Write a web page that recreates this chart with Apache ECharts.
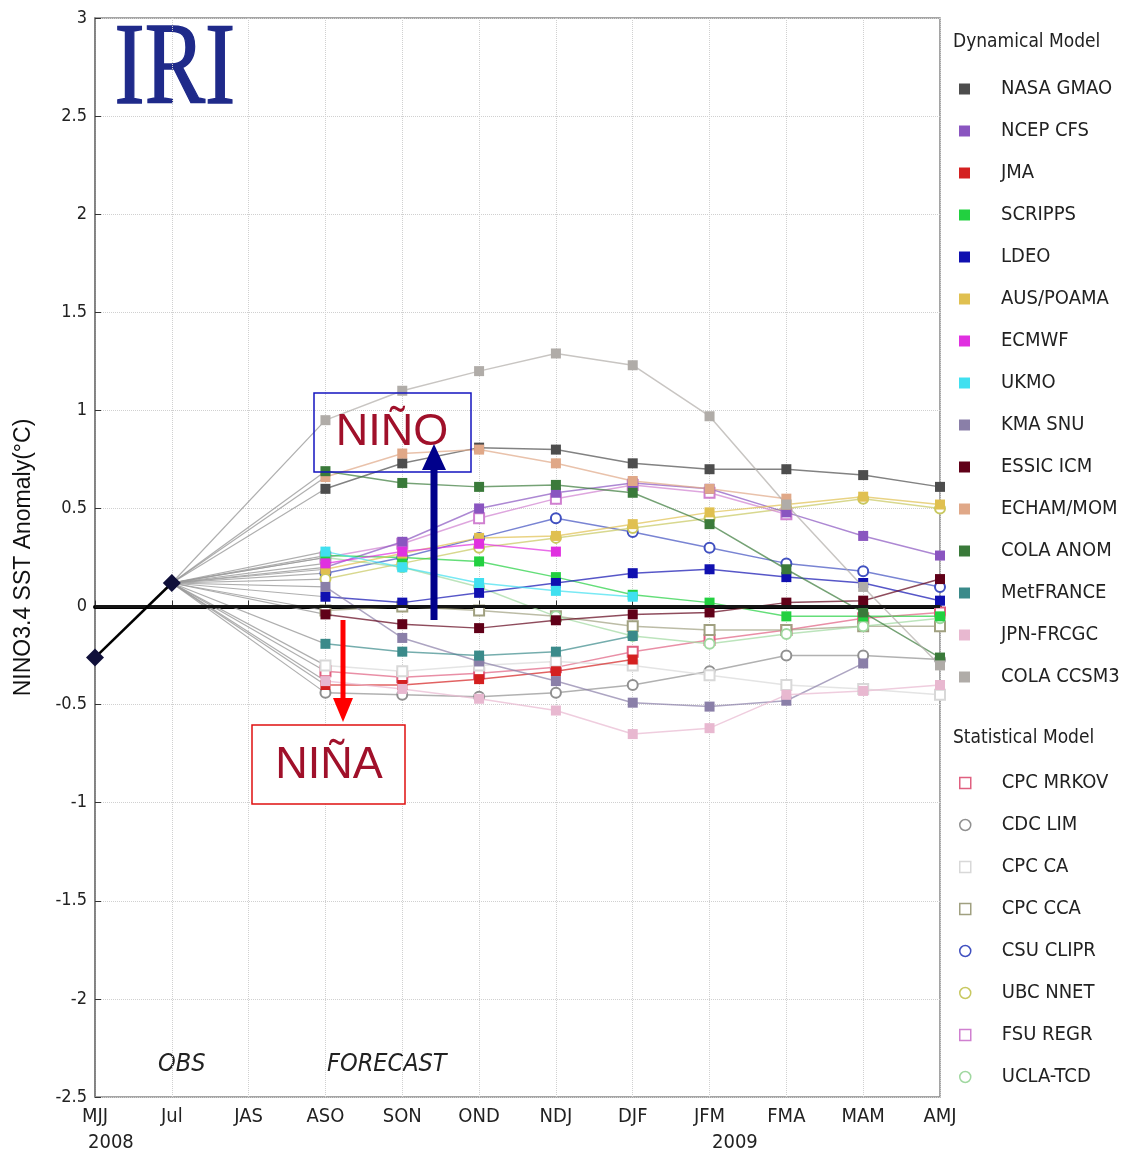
<!DOCTYPE html>
<html>
<head>
<meta charset="utf-8">
<script src="https://cdn.jsdelivr.net/npm/echarts@6/dist/echarts.min.js"></script>
<style>
  html, body { margin: 0; padding: 0; background: #fff; }
  #chart { width: 1146px; height: 1157px; }
</style>
</head>
<body>
<div id="chart"></div>
<script>
// seasons on the x axis (JJA is written "Jul" in the original)
var seasons = ['MJJ', 'Jul', 'JAS', 'ASO', 'SON', 'OND', 'NDJ', 'DJF', 'JFM', 'FMA', 'MAM', 'AMJ'];
var yTicks = [-2.5, -2, -1.5, -1, -0.5, 0, 0.5, 1, 1.5, 2, 2.5, 3];

// observed anomalies (MJJ, JJA)
var observed = [-0.26, 0.12];

// forecasts ASO .. AMJ
var NASA_GMAO  = [0.60, 0.73, 0.81, 0.80, 0.73, 0.70, 0.70, 0.67, 0.61];
var NCEP_CFS   = [0.20, 0.33, 0.50, 0.58, 0.63, 0.60, 0.48, 0.36, 0.26];
var JMA        = [-0.40, -0.40, -0.37, -0.33, -0.27, null, null, null, null];
var SCRIPPS    = [0.26, 0.25, 0.23, 0.15, 0.06, 0.02, -0.05, -0.05, -0.05];
var LDEO       = [0.05, 0.02, 0.07, 0.12, 0.17, 0.19, 0.15, 0.12, 0.03];
var AUS_POAMA  = [0.19, 0.27, 0.35, 0.36, 0.42, 0.48, 0.52, 0.56, 0.52];
var ECMWF      = [0.22, 0.28, 0.32, 0.28, null, null, null, null, null];
var UKMO       = [0.28, 0.20, 0.12, 0.08, 0.05, null, null, null, null];
var KMA_SNU    = [0.10, -0.16, -0.28, -0.38, -0.49, -0.51, -0.48, -0.29, null];
var ESSIC_ICM  = [-0.04, -0.09, -0.11, -0.07, -0.04, -0.03, 0.02, 0.03, 0.14];
var ECHAM_MOM  = [0.66, 0.78, 0.80, 0.73, 0.64, 0.60, 0.55, null, null];
var COLA_ANOM  = [0.69, 0.63, 0.61, 0.62, 0.58, 0.42, 0.19, -0.03, -0.26];
var METFRANCE  = [-0.19, -0.23, -0.25, -0.23, -0.15, null, null, null, null];
var JPN_FRCGC  = [-0.38, -0.42, -0.47, -0.53, -0.65, -0.62, -0.45, -0.43, -0.40];
var COLA_CCSM3 = [0.95, 1.10, 1.20, 1.29, 1.23, 0.97, 0.52, 0.10, -0.30];

var CPC_MRKOV  = [-0.33, -0.36, -0.34, -0.31, -0.23, -0.17, -0.12, -0.06, -0.03];
var CDC_LIM    = [-0.44, -0.45, -0.46, -0.44, -0.40, -0.33, -0.25, -0.25, -0.27];
var CPC_CA     = [-0.30, -0.33, -0.30, -0.28, -0.30, -0.35, -0.40, -0.42, -0.45];
var CPC_CCA    = [-0.02, 0.00, -0.02, -0.05, -0.10, -0.12, -0.12, -0.10, -0.10];
var CSU_CLIPR  = [0.17, 0.25, 0.35, 0.45, 0.38, 0.30, 0.22, 0.18, 0.10];
var UBC_NNET   = [0.14, 0.22, 0.30, 0.35, 0.40, 0.45, 0.50, 0.55, 0.50];
var FSU_REGR   = [0.25, 0.32, 0.45, 0.55, 0.62, 0.58, 0.47, null, null];
var UCLA_TCD   = [0.25, 0.20, 0.10, -0.05, -0.15, -0.19, -0.14, -0.10, -0.06];

var dynNames  = ['NASA GMAO', 'NCEP CFS', 'JMA', 'SCRIPPS', 'LDEO', 'AUS/POAMA', 'ECMWF', 'UKMO',
                 'KMA SNU', 'ESSIC ICM', 'ECHAM/MOM', 'COLA ANOM', 'MetFRANCE', 'JPN-FRCGC', 'COLA CCSM3'];
var dynValues = [NASA_GMAO, NCEP_CFS, JMA, SCRIPPS, LDEO, AUS_POAMA, ECMWF, UKMO,
                 KMA_SNU, ESSIC_ICM, ECHAM_MOM, COLA_ANOM, METFRANCE, JPN_FRCGC, COLA_CCSM3];
var dynColors = ['#4d4d4d', '#8a55c0', '#d42020', '#22d040', '#1010b0', '#e0c050', '#e030e0', '#40e0f0',
                 '#8a7fa8', '#600018', '#e0a888', '#3a7a3a', '#3a8a8a', '#e8b8d0', '#b0aca8'];

var statNames  = ['CPC MRKOV', 'CDC LIM', 'CPC CA', 'CPC CCA', 'CSU CLIPR', 'UBC NNET', 'FSU REGR', 'UCLA-TCD'];
var statValues = [CPC_MRKOV, CDC_LIM, CPC_CA, CPC_CCA, CSU_CLIPR, UBC_NNET, FSU_REGR, UCLA_TCD];
var statColors = ['#e06080', '#909090', '#d8d8d8', '#a0a080', '#4050c0', '#c8c860', '#d080d0', '#a0d8a0'];
var statSymbols = ['emptyRect', 'emptyCircle', 'emptyRect', 'emptyRect', 'emptyCircle', 'emptyCircle', 'emptyRect', 'emptyCircle'];

var narrow = '"Liberation Sans Narrow", "DejaVu Sans Condensed", "Liberation Sans", sans-serif';

var series = [];
function forecastData(vals) {
  return [null, null, null].concat(vals);
}
function spokeData(vals) {
  return [null, observed[1], null, vals[0]];
}
// thin gray lines from the last observation to each model's first season
dynValues.concat(statValues).forEach(function (vals) {
  series.push({
    type: 'line', data: spokeData(vals), connectNulls: true, silent: true,
    symbol: 'none', lineStyle: { color: '#9a9a9a', width: 1.2, opacity: 0.8 }, z: 1
  });
});
dynNames.forEach(function (n, i) {
  series.push({
    name: n, type: 'line', data: forecastData(dynValues[i]),
    symbol: 'rect', symbolSize: 10, color: dynColors[i],
    lineStyle: { width: 1.5, opacity: 0.7 }, z: 3
  });
});
statNames.forEach(function (n, i) {
  series.push({
    name: n, type: 'line', data: forecastData(statValues[i]),
    symbol: statSymbols[i], symbolSize: 10, color: statColors[i],
    itemStyle: { borderWidth: 1.5 },
    lineStyle: { width: 1.5, opacity: 0.7 }, z: 2
  });
});
series.push({
  name: 'OBS', type: 'line', data: observed,
  symbol: 'diamond', symbolSize: 18, color: '#10103a',
  lineStyle: { color: '#000', width: 2.5 }, z: 5,
  markLine: {
    silent: true, symbol: 'none', label: { show: false },
    lineStyle: { color: '#151515', width: 3, type: 'solid' },
    data: [{ yAxis: 0 }]
  }
});

var legendText = { fontFamily: narrow, fontSize: 20, color: '#222', lineHeight: 20, padding: [0, 0, 0, 26] };

var option = {
  backgroundColor: '#fff',
  animation: false,
  grid: { left: 95, right: 206, top: 18, bottom: 60, show: true, borderColor: '#888', borderWidth: 1.5 },
  xAxis: {
    type: 'category', data: seasons, boundaryGap: false,
    axisLine: { lineStyle: { color: '#000', width: 4 } },
    axisTick: { inside: true, length: 6, lineStyle: { color: '#333' } },
    axisLabel: { fontFamily: narrow, fontSize: 20, color: '#222', margin: 10 },
    splitLine: { show: true, lineStyle: { color: '#d0d0d0', type: 'dotted' } }
  },
  yAxis: {
    type: 'value', min: -2.5, max: 3, interval: 0.5,
    name: 'NINO3.4 SST Anomaly(°C)', nameLocation: 'middle', nameGap: 60,
    nameTextStyle: { fontFamily: '"Liberation Sans", sans-serif', fontSize: 23, color: '#111' },
    axisLine: { show: true, lineStyle: { color: '#777', width: 1.5 } },
    axisTick: { show: true, inside: true, length: 6, lineStyle: { color: '#333' } },
    axisLabel: {
      fontFamily: narrow, fontSize: 18, color: '#222', margin: 8,
      formatter: function (v) { return yTicks.indexOf(v) >= 0 ? String(v) : ''; }
    },
    splitLine: { show: true, lineStyle: { color: '#d0d0d0', type: 'dotted' } }
  },
  legend: [
    {
      data: dynNames.map(function (n) { return { name: n, icon: 'rect' }; }),
      orient: 'vertical', left: 959, top: 79, padding: 0,
      itemWidth: 11, itemHeight: 11, itemGap: 22, textStyle: legendText
    },
    {
      data: statNames.map(function (n, i) {
        return {
          name: n, icon: statSymbols[i] === 'emptyRect' ? 'rect' : 'circle',
          itemStyle: { color: '#fff', borderColor: statColors[i], borderWidth: 1.5 }
        };
      }),
      orient: 'vertical', left: 959, top: 773, padding: 0,
      itemWidth: 11, itemHeight: 11, itemGap: 22, textStyle: legendText
    }
  ],
  graphic: [
    { type: 'text', left: 114, top: 14, style: { text: 'IRI', font: '116px "Liberation Serif", serif', fill: '#1f2a8a', stroke: '#1f2a8a', lineWidth: 1.5 }, scaleX: 0.78 },
    { type: 'text', left: 953, top: 33, style: { text: 'Dynamical Model', font: '19px ' + narrow, fill: '#222' } },
    { type: 'text', left: 953, top: 729, style: { text: 'Statistical Model', font: '19px ' + narrow, fill: '#222' } },
    { type: 'text', left: 158, top: 1052, style: { text: 'OBS', font: 'italic 25px ' + narrow, fill: '#222' } },
    { type: 'text', left: 327, top: 1052, style: { text: 'FORECAST', font: 'italic 25px ' + narrow, fill: '#222' } },
    { type: 'text', left: 88, top: 1133, style: { text: '2008', font: '20px ' + narrow, fill: '#222' } },
    { type: 'text', left: 712, top: 1133, style: { text: '2009', font: '20px ' + narrow, fill: '#222' } },
    // NIÑO annotation
    { type: 'rect', shape: { x: 314, y: 393, width: 157, height: 79 }, style: { fill: 'none', stroke: '#1414c0', lineWidth: 1.5 }, z: 10 },
    { type: 'text', x: 392, y: 433, style: { text: 'NIÑO', font: '45px "Liberation Sans", sans-serif', fill: '#a0102a', textAlign: 'center', textVerticalAlign: 'middle' }, z: 10 },
    { type: 'line', shape: { x1: 434, y1: 620, x2: 434, y2: 468 }, style: { stroke: '#00008b', lineWidth: 7 }, z: 10 },
    { type: 'polygon', shape: { points: [[422, 470], [446, 470], [434, 444]] }, style: { fill: '#00008b' }, z: 10 },
    // NIÑA annotation
    { type: 'rect', shape: { x: 252, y: 725, width: 153, height: 79 }, style: { fill: '#fff', stroke: '#e01010', lineWidth: 1.5 }, z: 10 },
    { type: 'text', x: 329, y: 766, style: { text: 'NIÑA', font: '45px "Liberation Sans", sans-serif', fill: '#a0102a', textAlign: 'center', textVerticalAlign: 'middle' }, z: 10 },
    { type: 'line', shape: { x1: 343, y1: 620, x2: 343, y2: 700 }, style: { stroke: '#ff0000', lineWidth: 5 }, z: 10 },
    { type: 'polygon', shape: { points: [[333, 698], [353, 698], [343, 722]] }, style: { fill: '#ff0000' }, z: 10 }
  ],
  series: series
};

var myChart = echarts.init(document.getElementById('chart'));
myChart.setOption(option);
</script>
</body>
</html>
